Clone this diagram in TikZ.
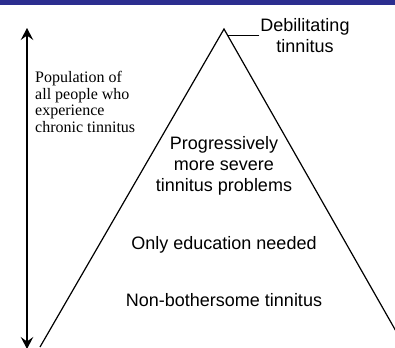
\documentclass[tikz,border=0pt]{standalone}
\usepackage{fontspec}
\setmainfont{Liberation Serif}
\setsansfont{Liberation Sans}
\usepackage{tikz}
\usetikzlibrary{arrows.meta}
\usetikzlibrary{positioning}
\definecolor{barblue}{RGB}{44,46,143}
\tikzset{x=1pt, y=-1pt, >={Stealth[length=12pt,width=12.5pt,inset=4.5pt]}, font=\sffamily\fontsize{18}{21}\selectfont}
\tikzstyle{stage} = [align=center, inner sep=1pt]
\tikzstyle{sidenote} = [align=left, inner sep=1pt, font=\rmfamily\fontsize{16}{16.5}\selectfont]
\tikzstyle{edge} = [line width=1.2pt, line join=miter]
\tikzstyle{leader} = [line width=0.9pt]

\begin{document}
\begin{tikzpicture}
    \useasboundingbox (0,0) rectangle (395,347);
    \fill [barblue] (0,0) rectangle (395,4.7);

    % the pyramid
    \coordinate (apex) at (224,29);
    \coordinate (base_l) at (40,347);
    \coordinate (base_r) at (405,347);
    \draw [edge] (base_l) -- (apex) -- (base_r);

    \node [stage] (debil) at (305,35.5) {Debilitating\\tinnitus};
    \path (apex) -- (base_r) coordinate [pos=0.02] (peak);
    \draw [leader] (debil.west) -- (debil.west -| peak);

    \node [stage] (severe) at (224,166) {Progressively\\more severe\\tinnitus problems};
    \node [stage, anchor=base] (educ) at (224,249.3) {Only education needed};
    \node [stage, below=37.8pt of educ] (calm) {Non-bothersome tinnitus};

    % population axis
    \coordinate (pop_top) at (27,28);
    \coordinate (pop_bot) at (27,349);
    \draw [line width=1.4pt, <->] (pop_bot) -- (pop_top);
    \node [sidenote, anchor=west] (pop) at (34,102) {Population of\\all people who\\experience\\chronic tinnitus};
\end{tikzpicture}
\end{document}
